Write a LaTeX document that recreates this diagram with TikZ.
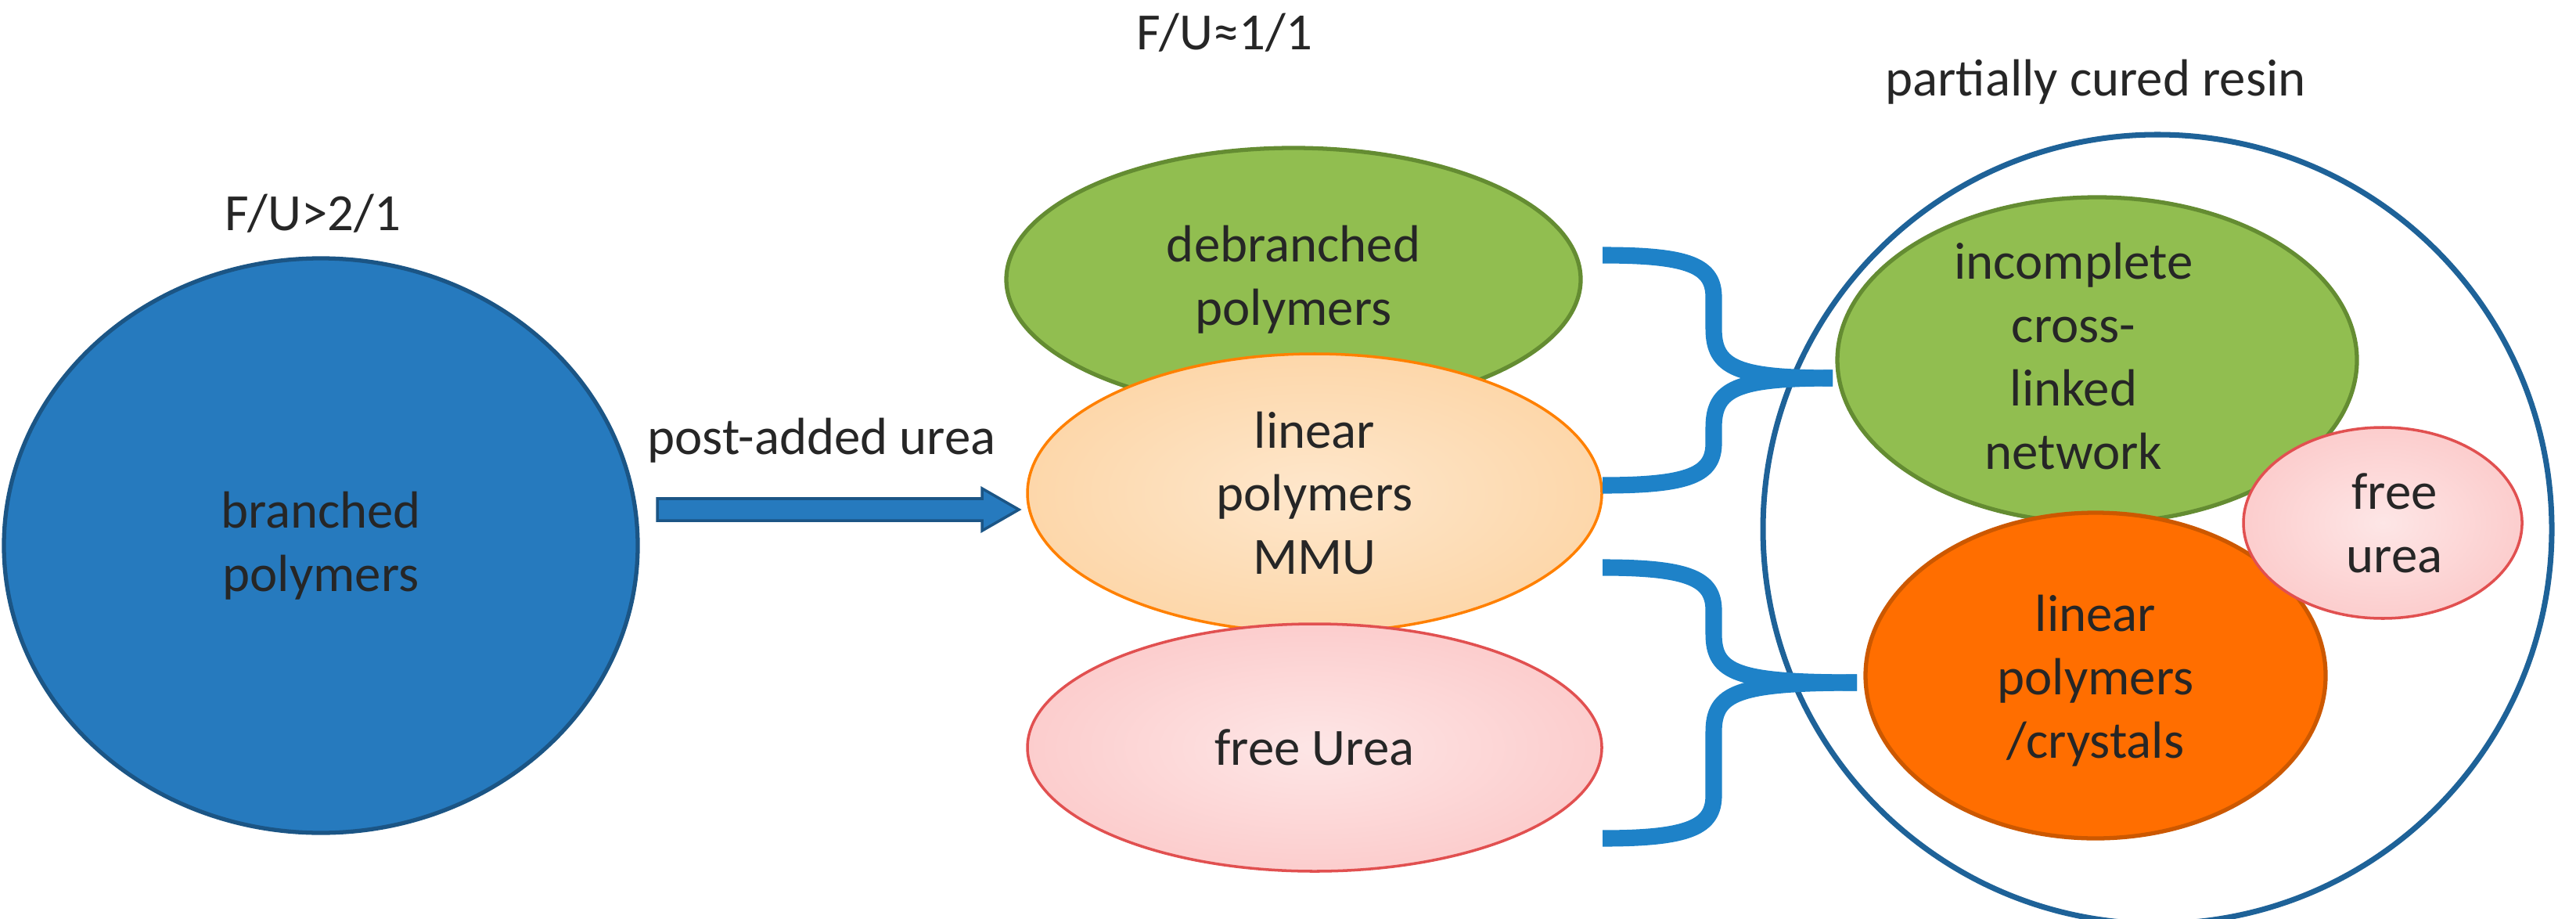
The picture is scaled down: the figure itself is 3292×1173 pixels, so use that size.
\documentclass[tikz,border=0pt]{standalone}
\usepackage{fontspec}
\setmainfont{Carlito}
\begin{document}
\begin{tikzpicture}[x=0.01cm,y=-0.01cm,
  lbl/.style={font=\fontsize{19}{23}\selectfont, align=center, text=black!85},
  brace/.style={draw=brc, line width=6pt, line cap=butt}]
\definecolor{dblue}{RGB}{38,122,190}
\definecolor{gre}{RGB}{145,190,80}
\definecolor{greD}{RGB}{100,140,50}
\definecolor{ora}{RGB}{255,110,0}
\definecolor{pinkF}{RGB}{252,205,205}
\definecolor{pinkD}{RGB}{225,80,80}
\definecolor{lor}{RGB}{253,215,170}
\definecolor{brc}{RGB}{30,130,200}
\useasboundingbox (0,0) rectangle (3292,1173);
% ellipses
\filldraw[fill=dblue, draw=dblue!70!black, line width=1.5pt] (410,697) ellipse [x radius=405, y radius=367];
\node[lbl] (b) at (410,697) {branched\\polymers};
\filldraw[fill=gre, draw=greD, line width=1.5pt] (1653,357) ellipse [x radius=367, y radius=168];
\node[lbl] (d) at (1653,357) {debranched\\polymers};
\shade[inner color=lor!60!white, outer color=lor] (1680,630) ellipse [x radius=367, y radius=178];
\draw[draw=orange, line width=1pt] (1680,630) ellipse [x radius=367, y radius=178];
\node[lbl] (l) at (1680,630) {linear\\polymers\\MMU};
\shade[inner color=pinkF!50!white, outer color=pinkF] (1680,955) ellipse [x radius=367, y radius=158];
\draw[draw=pinkD, line width=1pt] (1680,955) ellipse [x radius=367, y radius=158];
\node[lbl] (f) at (1680,955) {free Urea};
% big circle
\draw[draw=dblue!80!black, line width=2pt] (2757,676) circle [radius=504];
\node[lbl] (pc) at (2678,105) {partially cured resin};
\filldraw[fill=gre, draw=greD, line width=1.5pt] (2680,460) ellipse [x radius=332, y radius=208];
\node[lbl] (ic) at (2650,455) {incomplete\\cross-\\linked\\network};
\filldraw[fill=ora, draw=ora!80!black, line width=1.5pt] (2678,863) ellipse [x radius=294, y radius=208];
\node[lbl] (lc) at (2678,870) {linear\\polymers\\/crystals};
\shade[inner color=pinkF!50!white, outer color=pinkF] (3045,668) ellipse [x radius=178, y radius=122];
\draw[draw=pinkD, line width=1pt] (3045,668) ellipse [x radius=178, y radius=122];
\node[lbl] (fu) at (3060,668) {free\\urea};
% labels
\node[lbl] (t1) at (400,273) {F/U>2/1};
\node[lbl] (t2) at (1565,42) {F/U≈1/1};
% arrow
\draw[draw=dblue!70!black, fill=dblue, line width=1pt] (840,637) -- (1255,637) -- (1255,624) -- (1302,651) -- (1255,678) -- (1255,665) -- (840,665) -- cycle;
\node[lbl] (pa) at (1050,563) {post-added urea};
% braces
\draw[brace] (2048,326) .. controls (2160,326) and (2190,340) .. (2190,380)
  -- (2190,420) .. controls (2190,470) and (2220,483) .. (2342,483);
\draw[brace] (2048,620) .. controls (2160,620) and (2190,606) .. (2190,566)
  -- (2190,546) .. controls (2190,496) and (2220,483) .. (2342,483);
\draw[brace] (2048,725) .. controls (2160,725) and (2190,740) .. (2190,780)
  -- (2190,810) .. controls (2190,860) and (2220,872) .. (2373,872);
\draw[brace] (2048,1071) .. controls (2160,1071) and (2190,1056) .. (2190,1016)
  -- (2190,935) .. controls (2190,885) and (2220,872) .. (2373,872);
\end{tikzpicture}
\end{document}
